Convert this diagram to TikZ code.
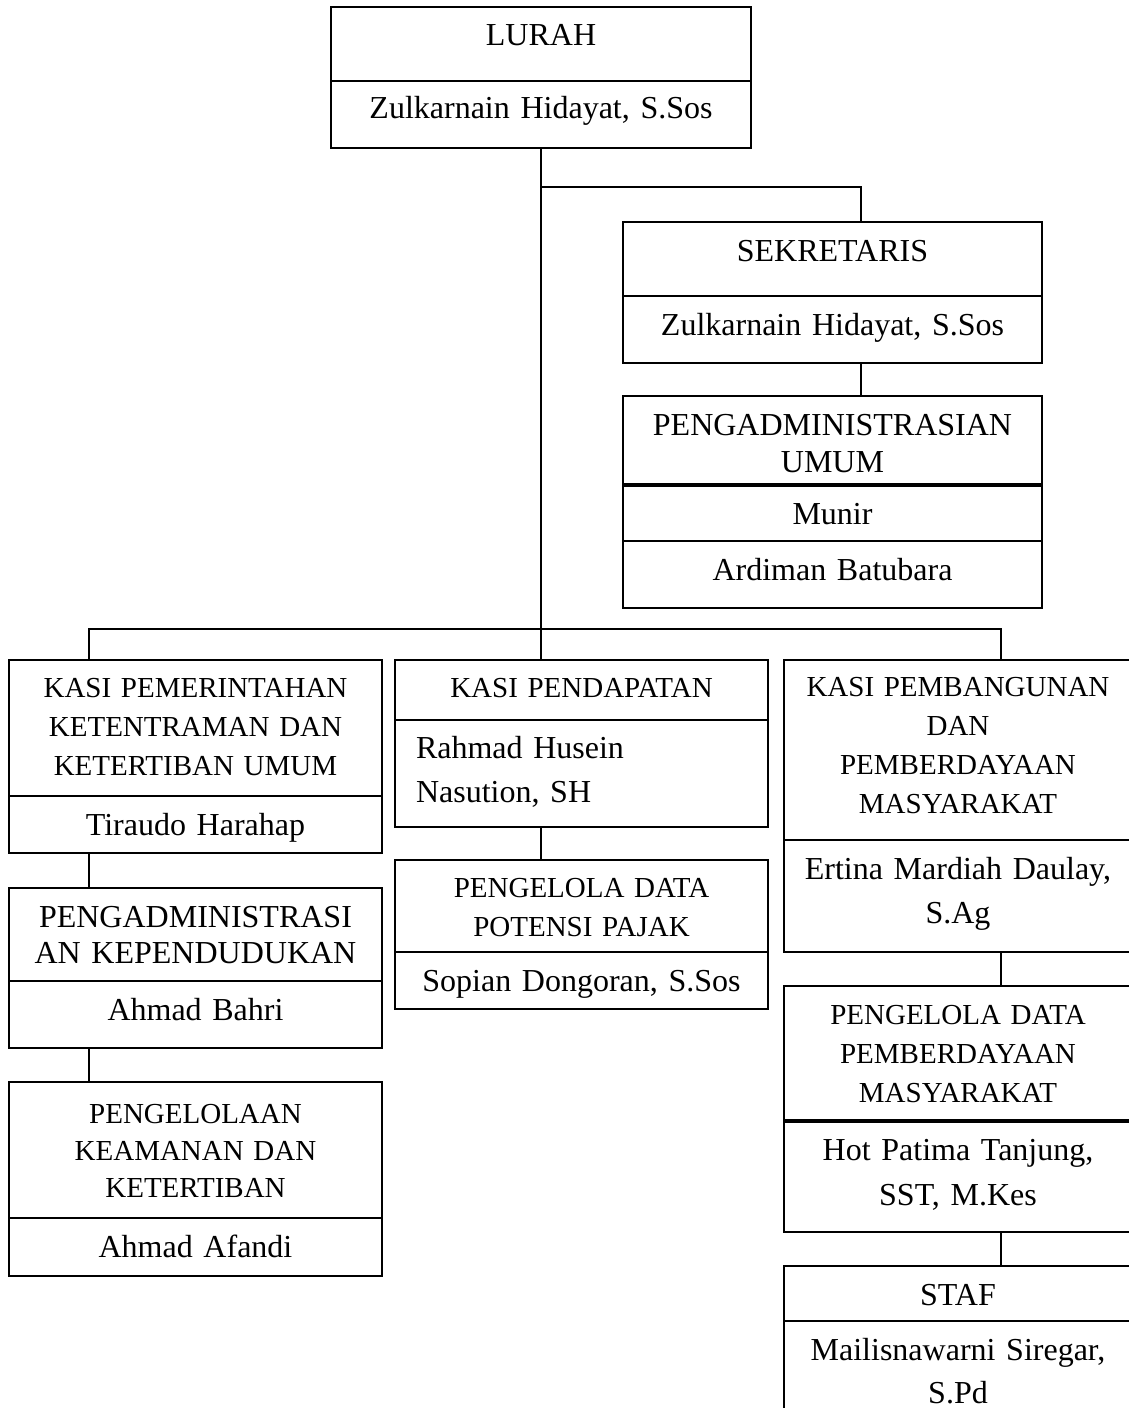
\documentclass[tikz,border=0pt]{standalone}
\usepackage{fontspec}
\setmainfont{Liberation Serif}
\usepackage{tikz}
\usetikzlibrary{calc}
\tikzset{
  cell/.style={draw, line width=1.4pt, anchor=north west, inner sep=0pt, outer sep=0pt},
  celltext/.style={anchor=base, align=center, inner sep=0pt, font=\fontsize{32}{39}\selectfont},
  smalltext/.style={font=\fontsize{29}{39}\selectfont},
  link/.style={line width=1.4pt}
}
% #1 extra text options, #2 name, #3 left, #4 top, #5 width, #6 height, #7 text
\newcommand{\cellbox}[7][]{\node[cell, minimum width=#5pt, minimum height=#6pt] (#2) at (#3,#4) {};
  \node[celltext, text width=#5pt, #1] (#2-t) at ($(#2.north)+(0,39)$) {#7};}

\begin{document}
\begin{tikzpicture}[x=1pt, y=-1pt]
        \useasboundingbox (0,0) rectangle (1129,1418);
        % lurah
        \cellbox{lurah}{331}{7}{420}{74}{LURAH}
        \cellbox[yshift=1pt]{lurahnm}{331}{81}{420}{67}{Zulkarnain Hidayat, S.Sos}
        % sekretaris
        \cellbox{sekret}{623}{222}{419}{74}{SEKRETARIS}
        \cellbox{sekretnm}{623}{296}{419}{67}{Zulkarnain Hidayat, S.Sos}
        \cellbox{admum}{623}{396}{419}{88}{PENGADMINISTRASIAN\\[-2pt] UMUM}
        \cellbox[yshift=1pt]{admumnm}{623}{486}{419}{55}{Munir}
        \cellbox{admumnmb}{623}{541}{419}{67}{Ardiman Batubara}
        % kasi pemerintahan
        \cellbox[smalltext, yshift=2pt]{pem}{9}{660}{373}{136}{KASI PEMERINTAHAN\\ KETENTRAMAN DAN\\ KETERTIBAN UMUM}
        \cellbox{pemnm}{9}{796}{373}{57}{Tiraudo Harahap}
        \cellbox{duduk}{9}{888}{373}{93}{PENGADMINISTRASI\\[-3pt] AN KEPENDUDUKAN}
        \cellbox{duduknm}{9}{981}{373}{67}{Ahmad Bahri}
        \cellbox[smalltext, yshift=-2pt]{aman}{9}{1082}{373}{136}{PENGELOLAAN\\[-2pt] KEAMANAN DAN\\[-2pt] KETERTIBAN}
        \cellbox{amannm}{9}{1218}{373}{58}{Ahmad Afandi}
        % kasi pendapatan
        \cellbox[smalltext, yshift=2pt]{pdp}{395}{660}{373}{60}{KASI PENDAPATAN}
        \cellbox[align=left, text width=331pt, yshift=1pt]{pdpnm}{395}{720}{373}{107}{Rahmad Husein\\[5pt] Nasution, SH}
        \cellbox[smalltext, yshift=2pt]{pajak}{395}{860}{373}{92}{PENGELOLA DATA\\ POTENSI PAJAK}
        \cellbox{pajaknm}{395}{952}{373}{57}{Sopian Dongoran, S.Sos}
        % kasi pembangunan
        \cellbox[smalltext, yshift=3pt]{bangun}{784}{660}{348}{180}{KASI PEMBANGUNAN\\ DAN\\ PEMBERDAYAAN\\ MASYARAKAT}
        \cellbox{bangunnm}{784}{840}{348}{112}{Ertina Mardiah Daulay,\\[5pt] S.Ag}
        \cellbox[smalltext, yshift=1pt]{dayadata}{784}{986}{348}{134}{PENGELOLA DATA\\ PEMBERDAYAAN\\ MASYARAKAT}
        \cellbox[yshift=1pt]{dayadatanm}{784}{1122}{348}{110}{Hot Patima Tanjung,\\[6pt] SST, M.Kes}
        \cellbox{staf}{784}{1266}{348}{55}{STAF}
        \node[cell, draw=none, minimum width=348pt, minimum height=87pt] (stafnm) at (784,1321) {};
        \node[celltext, text width=348pt] (stafnm-t) at ($(stafnm.north)+(0,39)$) {Mailisnawarni Siregar,\\[4pt] S.Pd};
        \draw[link] (stafnm.north west) -- (stafnm.south west);

        % connectors
        \coordinate (sekjoin) at (861,187);
        \coordinate (busl) at (89,629);
        \coordinate (busr) at (1001,629);
        \draw[link] (lurahnm.south) -- (lurahnm.south |- pdp.north);
        \draw[link] (lurahnm.south |- sekjoin) -- (sekjoin) -- (sekjoin |- sekret.north);
        \draw[link] (sekjoin |- sekretnm.south) -- (sekjoin |- admum.north);
        \draw[link] (busl |- pem.north) -- (busl) -- (busr) -- (busr |- bangun.north);
        \draw[link] (busl |- pemnm.south) -- (busl |- duduk.north);
        \draw[link] (busl |- duduknm.south) -- (busl |- aman.north);
        \draw[link] (lurahnm.south |- pdpnm.south) -- (lurahnm.south |- pajak.north);
        \draw[link] (busr |- bangunnm.south) -- (busr |- dayadata.north);
        \draw[link] (busr |- dayadatanm.south) -- (busr |- staf.north);
\end{tikzpicture}
\end{document}
